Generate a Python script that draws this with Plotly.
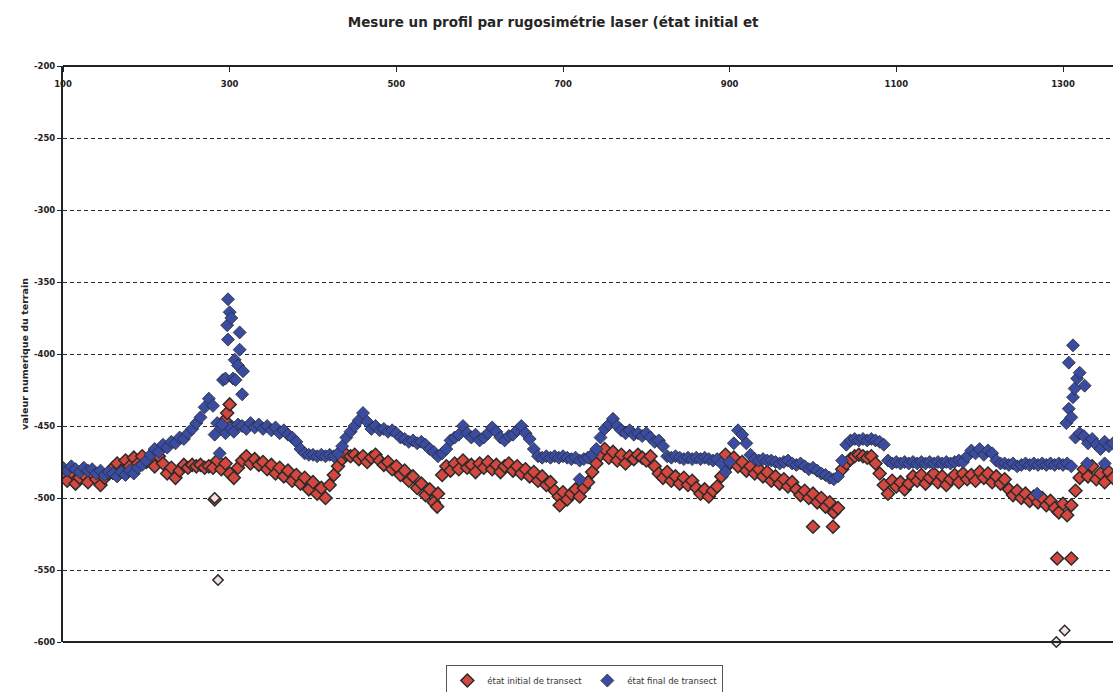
import plotly.graph_objects as go

# Profile positions (sampled every 5 units along the transect)
positions = list(range(100, 1365, 5))

# Initial state of the transect (terrain values)
initial_values = [
    -485, -488, -482, -490, -486, -484, -489, -483, -487, -491,
    -486, -483, -479, -476, -481, -474, -478, -472, -476, -471,
    -475, -473, -478, -471, -476, -483, -479, -486, -481, -477,
    -479, -477, -478, -477, -479, -478, -479, -474, -480, -476,
    -483, -486, -479, -474, -471, -476, -473, -477, -475, -480,
    -477, -483, -479, -485, -481, -488, -484, -490, -486, -494,
    -489, -497, -493, -500, -491, -484, -478, -473, -470, -471,
    -470, -473, -471, -475, -472, -470, -474, -477, -475, -480,
    -478, -484, -481, -488, -485, -493, -490, -498, -494, -503,
    -497, -484, -478, -481, -476, -480, -474, -479, -477, -482,
    -476, -479, -475, -480, -477, -482, -478, -476, -481, -478,
    -483, -480, -485, -482, -488, -485, -491, -489, -495, -499,
    -496, -501, -497, -494, -499, -493, -489, -482, -476, -470,
    -466, -472, -468, -474, -470, -476, -471, -473, -470, -472,
    -474, -471, -478, -483, -486, -482, -488, -485, -490, -486,
    -491, -488, -493, -497, -494, -499, -495, -492, -485, -470,
    -476, -472, -478, -475, -481, -478, -483, -480, -485, -482,
    -488, -485, -490, -487, -492, -489, -494, -498, -495, -500,
    -497, -503, -500, -506, -503, -510, -507, -480, -476, -473,
    -471, -470, -471, -472, -471, -476, -483, -491, -497, -488,
    -492, -489, -494, -490, -485, -488, -484, -490, -486, -483,
    -489, -485, -491, -487, -484, -489, -483, -487, -484, -488,
    -482, -486, -483, -489, -485, -490, -487, -494, -498, -495,
    -500, -497, -502, -499, -503, -500, -505, -502, -507, -510,
    -504, -512, -505, -495, -486, -480, -485, -478, -487, -483,
    -489, -482, -486,
]

# Final state of the transect (terrain values)
final_values = [
    -479, -481, -478, -480, -482, -479, -481, -480, -483, -481,
    -484, -482, -483, -485, -482, -484, -481, -483, -479, -477,
    -474, -470, -466, -468, -463, -465, -461, -462, -458, -459,
    -455, -452, -448, -444, -437, -431, -436, -448, -452, -455,
    -451, -454, -449, -450, -452, -448, -451, -449, -452, -450,
    -453, -451, -455, -453, -456, -458, -461, -466, -469, -470,
    -470, -471, -470, -471, -470, -471, -469, -464, -458, -454,
    -450, -446, -441, -447, -452, -450, -453, -452, -454, -453,
    -455, -458, -459, -461, -460, -462, -461, -463, -466, -468,
    -471, -469, -466, -460, -458, -456, -450, -455, -458, -456,
    -460, -458, -455, -451, -454, -458, -460, -457, -456, -453,
    -450, -455, -459, -466, -471, -472, -471, -472, -471, -472,
    -471, -472, -473, -472, -474, -473, -472, -470, -466, -458,
    -452, -449, -445, -450, -453, -455, -453, -456, -455, -457,
    -455, -458, -461, -460, -464, -471, -472, -471, -472, -473,
    -472, -473, -472, -473, -472, -473, -474, -473, -476, -482,
    -475, -462, -453, -456, -462, -470, -473, -474, -473, -474,
    -474, -475, -476, -475, -474, -476, -477, -476, -478, -480,
    -479, -481, -483, -484, -486, -487, -485, -474, -463, -460,
    -459, -460, -459, -460, -459, -460, -461, -463, -474, -476,
    -475, -476, -475, -476, -475, -476, -475, -476, -475, -476,
    -475, -476, -475, -476, -475, -474, -475, -471, -467, -469,
    -466, -470, -467, -469, -474, -476, -476, -477, -476, -478,
    -477, -476, -477, -476, -477, -476, -477, -476, -477, -476,
    -477, -476, -478, -458, -455, -457, -462, -459, -463, -466,
    -461, -464, -462,
]

# Isolated readings of the initial state (off the main band)
initial_extra_pos = [282, 294, 297, 300, 303, 549, 696, 1000, 1024, 1293, 1310]
initial_extra_val = [-501, -446, -441, -435, -451, -506, -505, -520, -520, -542, -542]

# Faint outlier readings of the initial state
initial_outlier_pos = [282, 286, 1292, 1302]
initial_outlier_val = [-500, -557, -600, -592]

# Isolated readings of the final state (peaks and strays)
final_extra_pos = [282, 288, 291, 292, 295, 297, 298, 298, 300, 302, 304, 306, 307,
                   310, 312, 312, 315, 316, 720, 1269, 1304, 1307, 1307, 1310,
                   1312, 1312, 1314, 1317, 1320, 1326, 1329, 1350]
final_extra_val = [-456, -469, -449, -418, -417, -380, -362, -390, -371, -375, -417,
                   -404, -418, -408, -385, -397, -428, -412, -487, -497, -448, -406,
                   -438, -444, -394, -430, -424, -417, -413, -422, -476, -476]

y_ticks = [-200, -250, -300, -350, -400, -450, -500, -550, -600]
x_ticks = [100, 300, 500, 700, 900, 1100, 1300]

RED = "#d4473f"
BLUE = "#3a4ca2"
EDGE = "#2b2b2b"
INK = "#222222"
FONT = "DejaVu Sans, Verdana, sans-serif"

fig = go.Figure()

fig.add_trace(go.Scatter(
    x=positions + initial_extra_pos,
    y=initial_values + initial_extra_val,
    mode="markers",
    name="état initial de transect",
    marker=dict(symbol="diamond", size=10, color=RED,
                line=dict(color=EDGE, width=1.5)),
))

fig.add_trace(go.Scatter(
    x=initial_outlier_pos,
    y=initial_outlier_val,
    mode="markers",
    showlegend=False,
    cliponaxis=False,
    marker=dict(symbol="diamond", size=8, color="#f3e1df",
                line=dict(color=EDGE, width=1.5)),
))

fig.add_trace(go.Scatter(
    x=positions + final_extra_pos,
    y=final_values + final_extra_val,
    mode="markers",
    name="état final de transect",
    marker=dict(symbol="diamond", size=10, color=BLUE,
                line=dict(color=EDGE, width=0.8)),
))

fig.update_layout(
    width=1113,
    height=692,
    paper_bgcolor="white",
    plot_bgcolor="white",
    margin=dict(l=63, r=0, t=66, b=50, autoexpand=False),
    font=dict(family=FONT, color=INK, size=9),
    title=dict(
        text="<b>Mesure un profil par rugosimétrie laser (état initial et</b>",
        x=0.497, xref="container", xanchor="center",
        y=0.968, yref="container", yanchor="middle",
        font=dict(size=13.5, family=FONT, color="#262626"),
    ),
    showlegend=True,
    legend=dict(
        orientation="h",
        x=0.497, xanchor="center",
        y=-0.04, yanchor="top",
        bordercolor="#555555", borderwidth=1,
        font=dict(size=8.5, family=FONT, color="#333333"),
        itemwidth=30,
    ),
    # bottom border of the plotting area
    shapes=[dict(type="line", xref="paper", yref="paper", x0=0, x1=1, y0=0, y1=0,
                 line=dict(color=INK, width=2))],
)

# category axis drawn along the top edge, labels hanging below it
fig.update_xaxes(
    range=[100, 1360],
    anchor="free",
    position=1,
    side="bottom",
    tickvals=x_ticks,
    ticktext=[f"<b>{v}</b>" for v in x_ticks],
    ticks="outside",
    ticklen=5,
    ticklabelstandoff=5,
    tickcolor=INK,
    showline=True,
    linecolor=INK,
    linewidth=2,
    showgrid=False,
    zeroline=False,
    tickfont=dict(size=8.5, family=FONT, color=INK),
)

fig.update_yaxes(
    range=[-600, -200],
    tickvals=y_ticks,
    ticktext=[f"<b>{v}</b>" for v in y_ticks],
    ticks="outside",
    ticklen=4,
    tickcolor=INK,
    showline=True,
    linecolor=INK,
    linewidth=2,
    showgrid=True,
    gridcolor="#2a2a2a",
    gridwidth=1.2,
    griddash="4px,3px",
    zeroline=False,
    tickfont=dict(size=8.5, family=FONT, color=INK),
    title=dict(text="<b>valeur numerique du terrain</b>",
               font=dict(size=9.5, family=FONT, color=INK),
               standoff=4),
)

fig.write_html("out.html")
